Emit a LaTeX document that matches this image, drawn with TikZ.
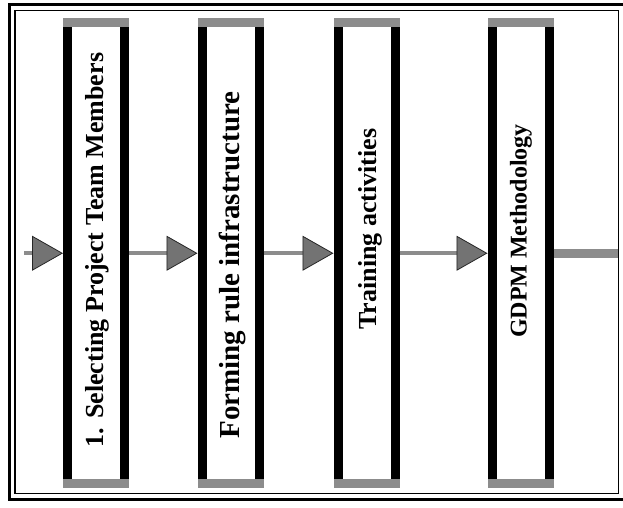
\documentclass[tikz,border=0pt]{standalone}
\usepackage{fontspec}
\setmainfont{Liberation Serif}
\usetikzlibrary{arrows.meta}

\begin{document}
\begin{tikzpicture}[x=1pt, y=-1pt,
    stage/.style={draw=black, line width=9pt, fill=white, outer sep=0pt,
                  minimum width=57pt, minimum height=460.5pt, inner sep=0pt},
    rim/.style={draw=black!45, line width=9pt, line cap=rect},
    caption/.style={rotate=90, inner sep=0pt,
                    font=\bfseries\fontsize{#1}{#1}\selectfont},
    shaft/.style={draw=black!45, line width=#1,
                  shorten <=4.5pt, shorten >=4.5pt},
    flow/.style={shaft=4pt,
                 -{Triangle[length=31pt, width=35pt, fill=black!55,
                            color=black!85, line width=0.8pt]}}
]
\clip (0,0) rectangle (623,508);

% double frame round the whole chain
\draw[line width=3pt] (9.5,4.5) rectangle (626,499.5);
\draw[line width=1.5pt] (15,10.5) rectangle (618.5,493.5);

\node[stage] (s1) at (96,253.25)    {};
\node[stage] (s2) at (230.5,253.25) {};
\node[stage] (s3) at (366.5,253.25) {};
\node[stage] (s4) at (520.5,253.25) {};
\foreach \s in {s1,s2,s3,s4}{
  \draw[rim] (\s.north west) -- (\s.north east);
  \draw[rim] (\s.south west) -- (\s.south east);
}

\node[caption=26] (c1) at (97,250)  {1. Selecting Project Team Members};
\node[caption=29] (c2) at (232,265) {Forming rule infrastructure};
\node[caption=26] (c3) at (370,229) {Training activities};
\node[caption=24] (c4) at (521,231) {GDPM Methodology};

\coordinate (in)  at (19.5,253.25);
\coordinate (out) at (622.5,253.25);
\draw[flow] (in) -- (s1.west);
\draw[flow] (s1.east) -- (s2.west);
\draw[flow] (s2.east) -- (s3.west);
\draw[flow] (s3.east) -- (s4.west);
\draw[shaft=9pt] (s4.east) -- (out);
\end{tikzpicture}
\end{document}
